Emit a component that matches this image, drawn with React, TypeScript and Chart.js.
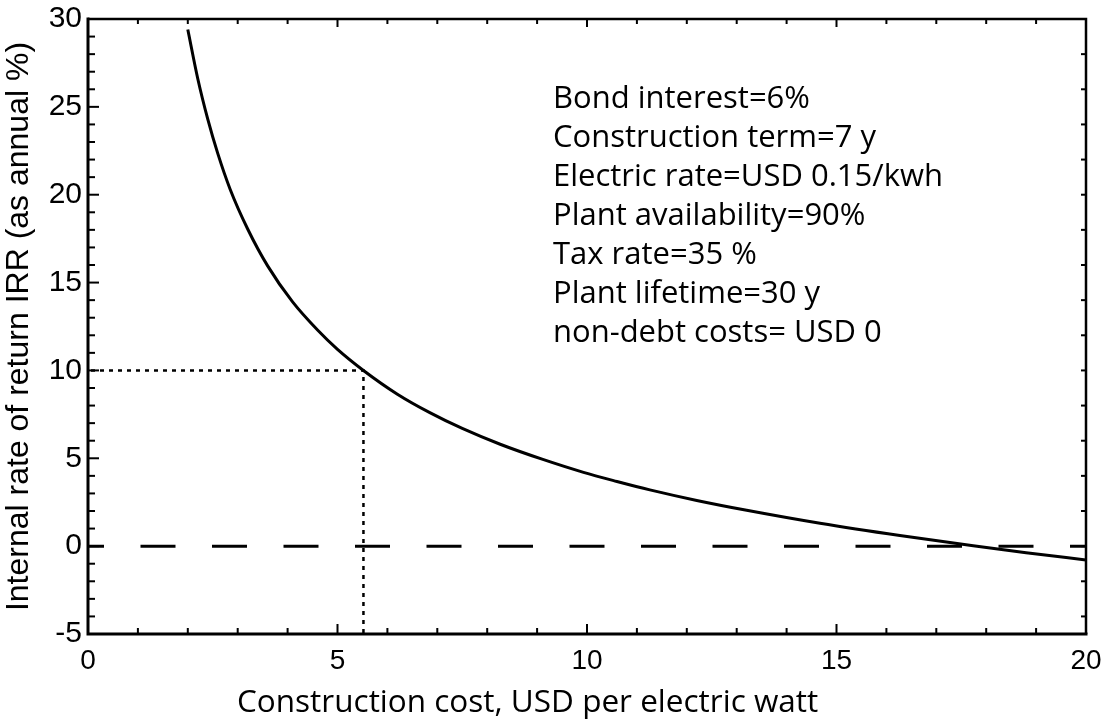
import React, { useEffect, useRef } from "react";
import { Chart, registerables } from "chart.js";

Chart.register(...registerables);

// Curve: IRR vs construction cost
const costX = [2.0, 2.2, 2.4, 2.6, 2.85, 3.2, 3.6, 4.1, 4.6, 5.0, 5.52, 6.2, 6.85, 7.5, 8.26, 9.1, 9.93, 10.6, 11.26, 12.2, 13.2, 14.67, 16.27, 17.74, 18.8, 20];
const irrY = [29.4, 26.6, 24.3, 22.35, 20.3, 18.05, 15.95, 13.9, 12.3, 11.2, 10.0, 8.65, 7.6, 6.7, 5.8, 4.95, 4.2, 3.68, 3.2, 2.6, 2.04, 1.3, 0.6, 0.02, -0.37, -0.79];

// Zero reference line (dashed)
const zeroX = [0, 20];
const zeroY = [0, 0];

// Guide for IRR = 10% (dotted)
const guideX = [0, 5.52, 5.52];
const guideY = [10, 10, -5];

const xMin = 0;
const xMax = 20;
const yMin = -5;
const yMax = 30;
const xStep = 5;
const yStep = 5;

const xTitle = "Construction cost, USD per electric watt";
const yTitle = "Internal rate of return IRR (as annual %)";

const notes = [
  "Bond interest=6%",
  "Construction term=7 y",
  "Electric rate=USD 0.15/kwh",
  "Plant availability=90%",
  "Tax rate=35 %",
  "Plant lifetime=30 y",
  "non-debt costs= USD 0",
];

const ARIAL = "'Liberation Sans', Arial, Helvetica, sans-serif";
const MYRIAD = "'Open Sans', 'Noto Sans', sans-serif";

const toPoints = (xs: number[], ys: number[]) => xs.map((x, i) => ({ x, y: ys[i] }));

const framePlugin = {
  id: "framePlugin",
  afterDraw(chart: any) {
    const { ctx, chartArea, scales } = chart;
    const xs = scales.x;
    const ys = scales.y;
    const { left, right, top, bottom } = chartArea;
    ctx.save();
    ctx.strokeStyle = "#000";
    ctx.lineCap = "butt";

    // frame
    ctx.lineWidth = 3;
    ctx.beginPath();
    ctx.moveTo(left, top - 1.5);
    ctx.lineTo(left, bottom);
    ctx.lineTo(right + 1.5, bottom);
    ctx.stroke();
    ctx.lineWidth = 2.5;
    ctx.beginPath();
    ctx.moveTo(left, top);
    ctx.lineTo(right, top);
    ctx.lineTo(right, bottom);
    ctx.stroke();

    // inward ticks
    ctx.lineWidth = 2;
    for (let v = xMin + 1; v < xMax; v++) {
      const px = xs.getPixelForValue(v);
      const major = v % 5 === 0;
      ctx.beginPath();
      ctx.moveTo(px, bottom);
      ctx.lineTo(px, bottom - (major ? 10 : 6));
      ctx.moveTo(px, top);
      ctx.lineTo(px, top + (major ? 8 : 5));
      ctx.stroke();
    }
    for (let v = yMin + 1; v < yMax; v++) {
      const py = ys.getPixelForValue(v);
      const major = v % 5 === 0;
      ctx.beginPath();
      ctx.moveTo(left, py);
      ctx.lineTo(left + (major ? 11 : 7), py);
      ctx.stroke();
    }
    for (let v = yMin + 1; v < yMax; v += 2) {
      const py = ys.getPixelForValue(v);
      ctx.beginPath();
      ctx.moveTo(right, py);
      ctx.lineTo(right - 5, py);
      ctx.stroke();
    }

    // annotation text
    ctx.fillStyle = "#000";
    ctx.font = `31px ${MYRIAD}`;
    ctx.textAlign = "left";
    ctx.textBaseline = "alphabetic";
    notes.forEach((t, i) => ctx.fillText(t, 553, 108 + 39 * i));

    // x-axis title
    ctx.font = `31.5px ${MYRIAD}`;
    ctx.fillText(xTitle, 237, 712);
    ctx.restore();
  },
};

export default function App() {
  const canvasRef = useRef<HTMLCanvasElement | null>(null);

  useEffect(() => {
    document.body.style.margin = "0";
    const canvas = canvasRef.current;
    if (!canvas) return;
    const chart = new Chart(canvas, {
      type: "line",
      data: {
        datasets: [
          {
            data: toPoints(costX, irrY),
            borderColor: "#000",
            borderWidth: 3,
            pointRadius: 0,
            cubicInterpolationMode: "monotone",
            fill: false,
          },
          {
            data: toPoints(zeroX, zeroY),
            borderColor: "#000",
            borderWidth: 3,
            pointRadius: 0,
            borderDash: [35, 36.5],
            borderDashOffset: 19,
            fill: false,
          },
          {
            data: toPoints(guideX, guideY),
            borderColor: "#000",
            borderWidth: 2.5,
            pointRadius: 0,
            borderDash: [4, 5],
            borderDashOffset: 6,
            tension: 0,
            fill: false,
          },
        ],
      },
      options: {
        animation: false,
        responsive: true,
        maintainAspectRatio: false,
        devicePixelRatio: 1,
        layout: { padding: { top: 19, right: 18, left: 0, bottom: 0 } },
        plugins: { legend: { display: false }, tooltip: { enabled: false } },
        scales: {
          x: {
            type: "linear",
            min: xMin,
            max: xMax,
            grid: { display: false, drawTicks: false },
            border: { display: false },
            ticks: {
              stepSize: xStep,
              color: "#000",
              padding: 10,
              font: { family: ARIAL, size: 28 },
              maxRotation: 0,
            },
            afterFit: (s: any) => {
              s.height = 87;
              s.paddingLeft = 0;
              s.paddingRight = 0;
            },
          },
          y: {
            type: "linear",
            min: yMin,
            max: yMax,
            grid: { display: false, drawTicks: false },
            border: { display: false },
            ticks: {
              stepSize: yStep,
              color: "#000",
              padding: 6,
              font: { family: ARIAL, size: 30 },
            },
            title: {
              display: true,
              text: yTitle,
              color: "#000",
              font: { family: ARIAL, size: 32 },
              padding: { top: 0, bottom: 0 },
            },
            afterFit: (s: any) => {
              s.width = 88;
              s.paddingTop = 0;
              s.paddingBottom = 0;
            },
          },
        },
      },
      plugins: [framePlugin],
    });
    return () => chart.destroy();
  }, []);

  return (
    <div style={{ position: "relative", width: 1104, height: 721 }}>
      <canvas ref={canvasRef} />
    </div>
  );
}
